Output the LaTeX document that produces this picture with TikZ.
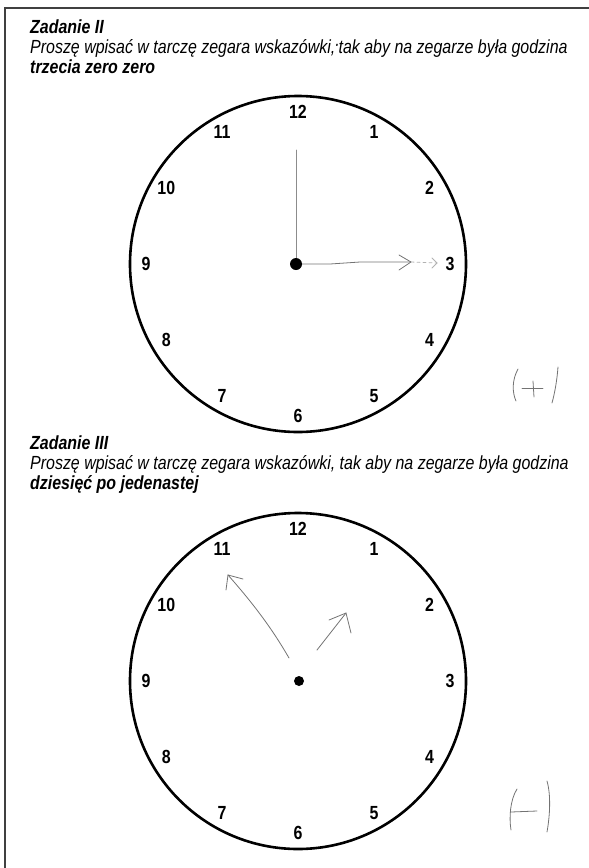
\documentclass[tikz,border=0pt]{standalone}
\usepackage{fontspec}
\usetikzlibrary{calc}
\setmainfont{Liberation Sans}[FakeStretch=0.84]
\begin{document}
\begin{tikzpicture}[x=1pt,y=-1pt,
  txt/.style={anchor=base west,inner sep=0pt,font=\fontsize{19}{20}\selectfont\itshape},
  ttl/.style={txt,font=\fontsize{19}{20}\selectfont\bfseries\itshape},
  face/.style={circle,draw,line width=2.6pt,minimum size=336pt,inner sep=0pt},
  num/.style={inner sep=0pt,font=\fontsize{19}{20}\selectfont\bfseries},
  hub/.style={circle,fill,inner sep=0pt},
  pencil/.style={draw=black!55,line width=0.8pt,line cap=round,line join=round},
  faint/.style={draw=black!30,line width=0.8pt,line cap=round}]
\useasboundingbox (0,0) rectangle (589,868);
% border
\coordinate (bTL) at (5,8);
\coordinate (bTR) at (589,8);
\coordinate (bBL) at (5,868);
\draw[black!75,line width=1.8pt] (bTR) -- (bTL) -- (bBL);
% task II text
\node[ttl] (h1) at (30,33) {Zadanie II};
\node[txt] (p1) at (30,53) {Proszę wpisać w tarczę zegara wskazówki,\kern-1pt\raisebox{3pt}{\textperiodcentered}\kern-1pt tak aby na zegarze była godzina};
\node[ttl] (q1) at (30,73) {trzecia zero zero};
% clock 1
\node[face] (c1) at (298,264) {};
\node[hub,minimum size=12pt] (d1) at (296,264) {};
\foreach \h/\a in {12/90,1/60,2/30,3/0,4/-30,5/-60,6/-90,7/-120,8/-150,9/180,10/150,11/120}
  \node[num] (a\h) at ($(298,264)+(\a:152 and -152)$) {\h};
% hands clock 1
\coordinate (m1) at (296,150);
\coordinate (h1e) at (411,262);
\draw[pencil,draw=black!45,line width=0.7pt] (d1) -- (m1);
\draw[pencil] (d1.east) -- (330,264) -- (360,262) -- (h1e);
\draw[pencil] (399,255) -- (h1e) -- (399,270);
\draw[faint,dashed] (h1e) -- (437,263);
\draw[faint] (432,258) -- (437,263) -- (432,268);
% mark (+)
\draw[pencil] (518,369) .. controls (512,380) and (512,392) .. (516,401);
\draw[pencil] (522,388) -- (543,388);
\draw[pencil] (533,381) -- (534,397);
\draw[pencil] (558,367) .. controls (557,380) and (555,392) .. (552,403);
% task III text
\node[ttl] (h2) at (30,449) {Zadanie III};
\node[txt] (p2) at (30,469) {Proszę wpisać w tarczę zegara wskazówki, tak aby na zegarze była godzina};
\node[ttl] (q2) at (30,489) {dziesięć po jedenastej};
% clock 2
\node[face] (c2) at (298,681) {};
\node[hub,minimum size=10pt] (d2) at (299,681) {};
\foreach \h/\a in {12/90,1/60,2/30,3/0,4/-30,5/-60,6/-90,7/-120,8/-150,9/180,10/150,11/120}
  \node[num] (b\h) at ($(298,681)+(\a:152 and -152)$) {\h};
% hands clock 2
\coordinate (L0) at (289,658);
\coordinate (L1) at (228,575);
\coordinate (S0) at (317,650);
\coordinate (S1) at (346,613);
\draw[pencil] (L0) .. controls (270,625) and (250,600) .. (L1);
\draw[pencil] (226,590) -- (L1) -- (243,579);
\draw[pencil] (S0) -- (S1);
\draw[pencil] (329,620) -- (S1) -- (351,633);
% mark (-)
\draw[pencil] (517,789) .. controls (510,800) and (509,818) .. (511,830);
\draw[pencil] (511,812) -- (537,811);
\draw[pencil] (547,781) .. controls (551,795) and (550,815) .. (547,832);
\end{tikzpicture}
\end{document}
